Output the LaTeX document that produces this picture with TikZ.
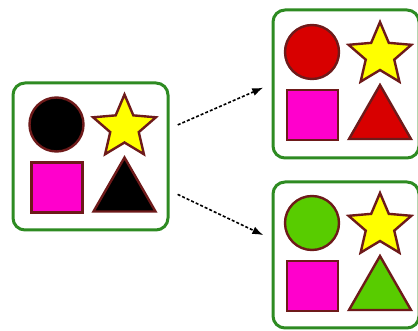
\documentclass[tikz,border=0pt]{standalone}
\usetikzlibrary{arrows.meta,calc}
\definecolor{setgreen}{HTML}{2E8B22}
\definecolor{shapeedge}{HTML}{6E1A1A}
\definecolor{squarepink}{HTML}{FF00CC}
\definecolor{starfill}{HTML}{FFFF00}
\definecolor{shapered}{HTML}{D80000}
\definecolor{shapelime}{HTML}{58CC00}

\begin{document}
\begin{tikzpicture}[
  x=1pt,
  y=-1pt,
  line join=miter,
  setbox/.style={draw=setgreen,line width=3pt,rounded corners=12pt,fill=white,inner sep=0pt},
  shapeline/.style={draw=shapeedge,line width=2.4pt},
  flow/.style={draw=black,line width=1.6pt,dash pattern=on 3pt off 2pt,shorten <=9pt,shorten >=9pt,-{Latex[length=11pt,width=8pt]}}
]
  \useasboundingbox (0,0) rectangle (418,331);

  % Original set and its two recoloured copies.
  \node[setbox,minimum width=155pt,minimum height=147pt] (src) at (90.5,156.5) {};
  \node[setbox,minimum width=146pt,minimum height=148pt] (redset) at (346,84) {};
  \node[setbox,minimum width=146pt,minimum height=146pt] (greenset) at (346,255) {};

  % Dashed arrows towards the copies.
  \draw[flow] ([yshift=28pt]src.east) -- (redset.west);
  \draw[flow] ([yshift=-34pt]src.east) -- ([yshift=16pt]greenset.west);

  % Circle, square, triangle and star in every box.
  \foreach \b/\c in {src/black,redset/shapered,greenset/shapelime} {
    \draw[shapeline,fill=\c] ($(\b)+(-34,-32)$) circle[radius=27pt];
    \draw[shapeline,fill=squarepink] ($(\b)+(-59,6)$) rectangle ($(\b)+(-8,56)$);
    \draw[shapeline,fill=\c] ($(\b)+(34,1)$) -- ($(\b)+(65,55)$) -- ($(\b)+(3,55)$) -- cycle;
    \draw[shapeline,fill=starfill,shift={($(\b)+(34,-29)$)}] (-90:33)
      \foreach \k in {0,...,4} { -- (-54+72*\k:15) -- (-18+72*\k:33) } -- cycle;
  }
\end{tikzpicture}
\end{document}
